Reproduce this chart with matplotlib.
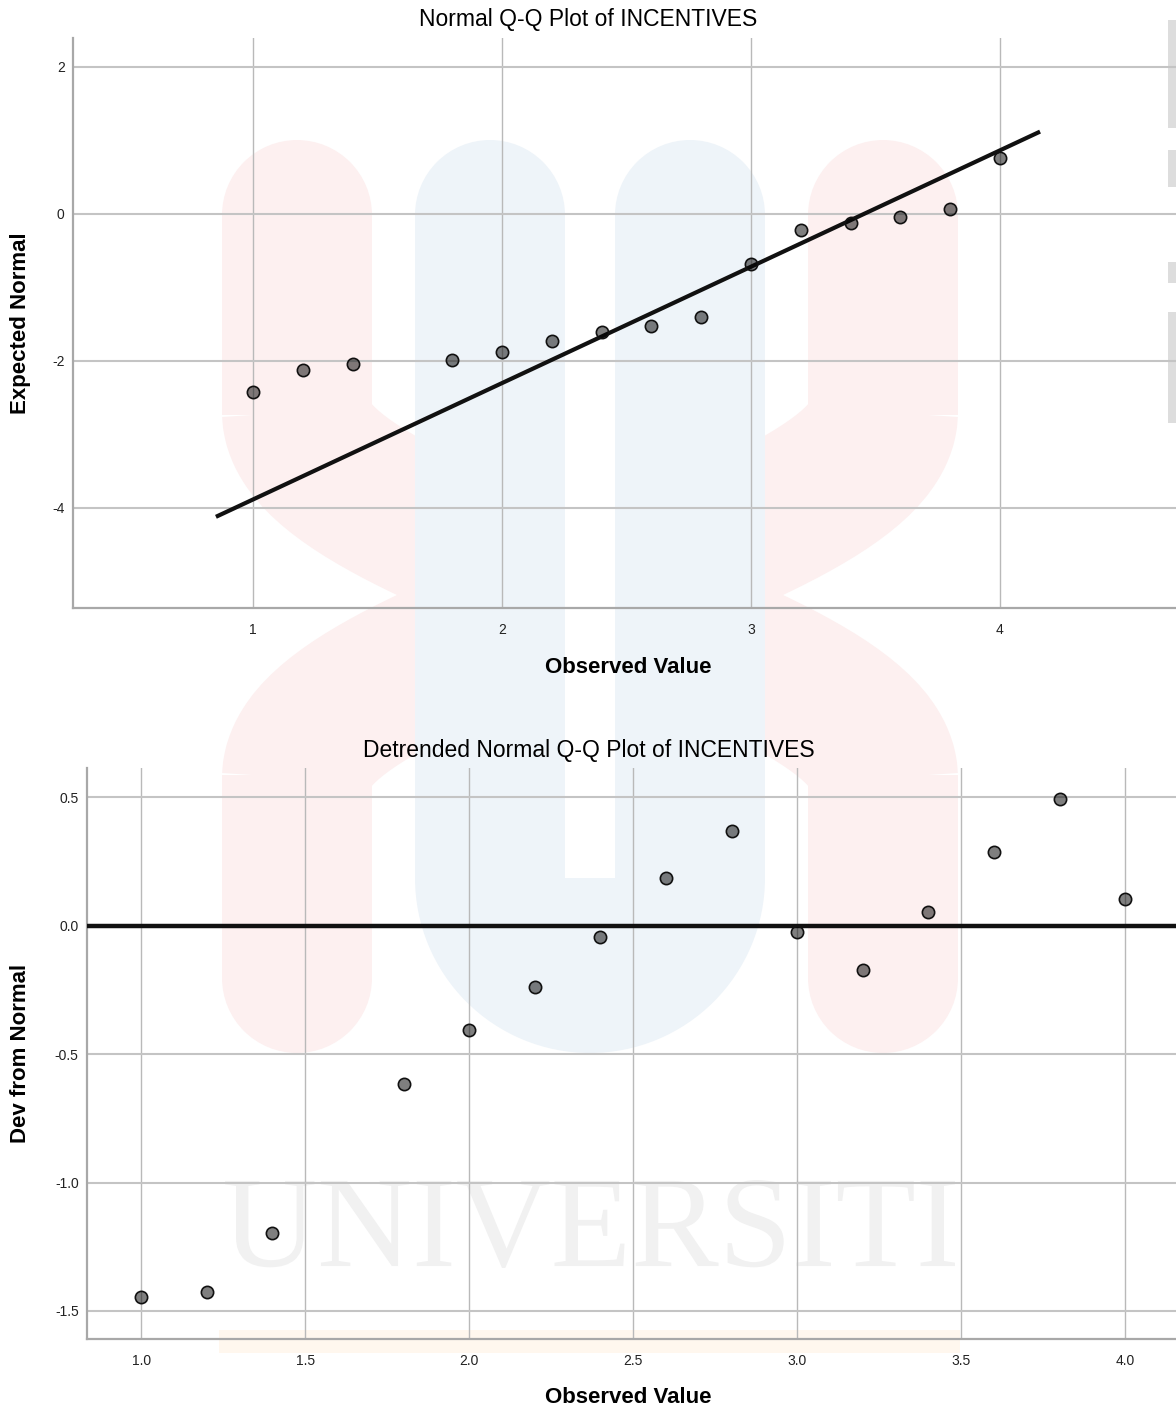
import matplotlib
matplotlib.use("Agg")
import numpy as np
import matplotlib.pyplot as plt
from matplotlib.patches import Rectangle, Wedge, PathPatch
from matplotlib.textpath import TextPath
from matplotlib.font_manager import FontProperties
from matplotlib.transforms import Affine2D

plt.rcParams['font.family'] = ['Liberation Sans', 'DejaVu Sans']

# observed values (both plots share them)
observed = [1.0, 1.2, 1.4, 1.8, 2.0, 2.2, 2.4, 2.6, 2.8, 3.0, 3.2, 3.4, 3.6, 3.8, 4.0]
# expected normal values (top plot)
expected = [-2.42, -2.12, -2.04, -1.99, -1.88, -1.73, -1.61, -1.52, -1.40,
            -0.68, -0.22, -0.12, -0.05, 0.07, 0.76]
# deviation from normal (bottom plot)
deviation = [-1.447, -1.428, -1.195, -0.615, -0.405, -0.241, -0.043, 0.183, 0.366,
             -0.027, -0.175, 0.054, 0.288, 0.494, 0.105]

# reference line of the Q-Q plot: z = (x - mean) / sd
fit_mean = 3.455
fit_sd = 0.632
fit_x = [0.851, 4.161]

top_xticks = [1, 2, 3, 4]
top_yticks = [-4, -2, 0, 2]
bot_xticks = [1.0, 1.5, 2.0, 2.5, 3.0, 3.5, 4.0]
bot_yticks = [-1.5, -1.0, -0.5, 0.0, 0.5]

W, H = 1176, 1414
fig = plt.figure(figsize=(W / 100, H / 100), dpi=100)
fig.patch.set_facecolor('white')

# faint watermark behind the charts, in pixel coordinates
bg = fig.add_axes([0, 0, 1, 1], zorder=-10)
bg.set_xlim(0, W)
bg.set_ylim(H, 0)
bg.axis('off')
pink = '#fdf0f0'
blue = '#eef4f9'
for x0 in (222, 808):
    bg.add_patch(Rectangle((x0, 215), 150, 200, color=pink, lw=0))
    bg.add_patch(Wedge((x0 + 75, 215), 75, 180, 360, color=pink, lw=0))
    bg.add_patch(Rectangle((x0, 775), 150, 203, color=pink, lw=0))
    bg.add_patch(Wedge((x0 + 75, 978), 75, 0, 180, color=pink, lw=0))
# the two crossing bands of the logo
t = np.linspace(0, 1, 60)
band_y = 412 + 366 * t
s_curve = (1 - np.cos(np.pi * t)) / 2
bg.plot(297 + 586 * s_curve, band_y, color=pink, lw=108, solid_capstyle='butt', zorder=0.5)
bg.plot(883 - 586 * s_curve, band_y, color=pink, lw=108, solid_capstyle='butt', zorder=0.5)
bg.add_patch(Rectangle((565, 140), 50, 760, color='white', lw=0))
for x0 in (415, 615):
    bg.add_patch(Rectangle((x0, 215), 150, 663, color=blue, lw=0))
    bg.add_patch(Wedge((x0 + 75, 215), 75, 180, 360, color=blue, lw=0))
bg.add_patch(Wedge((590, 878), 175, 0, 180, color=blue, lw=0))
bg.add_patch(Rectangle((219, 1330), 741, 23, color='#fff7ee', lw=0))
for y0, h in [(20, 108), (150, 37), (262, 21), (312, 111)]:
    bg.add_patch(Rectangle((1168, y0), 10, h, color='#dddddd', lw=0))
tp = TextPath((0, 0), "UNIVERSITI", size=100, prop=FontProperties(family='Liberation Serif'))
ext = tp.get_extents()
tr = Affine2D().translate(-ext.x0, -ext.y0).scale(730 / ext.width, -88 / ext.height).translate(225, 1268)
bg.add_patch(PathPatch(tr.transform_path(tp), facecolor='#f1f1f1', edgecolor='none'))


def style_axes(ax, xticks, yticks, xfmt, yfmt):
    ax.set_facecolor('none')
    for s in ('top', 'right'):
        ax.spines[s].set_visible(False)
    for s in ('left', 'bottom'):
        ax.spines[s].set_color('#a8a8a8')
        ax.spines[s].set_linewidth(1.6)
    ax.set_xticks(xticks)
    ax.set_yticks(yticks)
    ax.set_xticklabels([xfmt.format(v) for v in xticks])
    ax.set_yticklabels([yfmt.format(v) for v in yticks])
    ax.tick_params(axis='x', length=0, pad=11, labelsize=10, labelcolor='#222222')
    ax.tick_params(axis='y', length=0, pad=6, labelsize=10, labelcolor='#222222')
    ax.grid(axis='y', color='#c4c4c4', lw=1.5, zorder=1)
    ax.grid(axis='x', color='#b9b9b9', lw=1.0, zorder=1)
    ax.set_axisbelow(True)


# ---- Normal Q-Q plot ----
ax1 = fig.add_axes([73 / W, 1 - 608 / H, 1 - 73 / W, 570 / H])
style_axes(ax1, top_xticks, top_yticks, '{:d}', '{:d}')
ax1.set_xlim(0.277, 4.707)
ax1.set_ylim(-5.36, 2.39)
fit_y = [(v - fit_mean) / fit_sd for v in fit_x]
ax1.plot(fit_x, fit_y, color='#111111', lw=3.0, solid_capstyle='butt', zorder=3)
ax1.scatter(observed, expected, s=78, facecolor=(0, 0, 0, 0.5), edgecolor='#111111',
            linewidth=1.2, zorder=4)
ax1.text(0.467, 1.0316, 'Normal Q-Q Plot of INCENTIVES', transform=ax1.transAxes,
         ha='center', va='center', fontsize=16.5)
ax1.set_xlabel('Observed Value', fontsize=16, fontweight='bold')
ax1.xaxis.set_label_coords(0.503, -0.105)
ax1.xaxis.label.set_va('center')
ax1.set_ylabel('Expected Normal', fontsize=16, fontweight='bold')
ax1.yaxis.set_label_coords(-0.048, 0.5)
ax1.yaxis.label.set_va('center')

# ---- Detrended Normal Q-Q plot ----
ax2 = fig.add_axes([87 / W, 1 - 1339 / H, 1 - 87 / W, 571 / H])
style_axes(ax2, bot_xticks, bot_yticks, '{:.1f}', '{:.1f}')
ax2.set_xlim(0.835, 4.155)
ax2.set_ylim(-1.609, 0.613)
ax2.axhline(0, color='#111111', lw=3.2, zorder=3)
ax2.scatter(observed, deviation, s=78, facecolor=(0, 0, 0, 0.5), edgecolor='#111111',
            linewidth=1.2, zorder=4)
ax2.text(0.461, 1.0315, 'Detrended Normal Q-Q Plot of INCENTIVES', transform=ax2.transAxes,
         ha='center', va='center', fontsize=16.5)
ax2.set_xlabel('Observed Value', fontsize=16, fontweight='bold')
ax2.xaxis.set_label_coords(0.497, -0.1016)
ax2.xaxis.label.set_va('center')
ax2.set_ylabel('Dev from Normal', fontsize=16, fontweight='bold')
ax2.yaxis.set_label_coords(-0.0615, 0.5)
ax2.yaxis.label.set_va('center')

fig.savefig('out.png', dpi=100)
